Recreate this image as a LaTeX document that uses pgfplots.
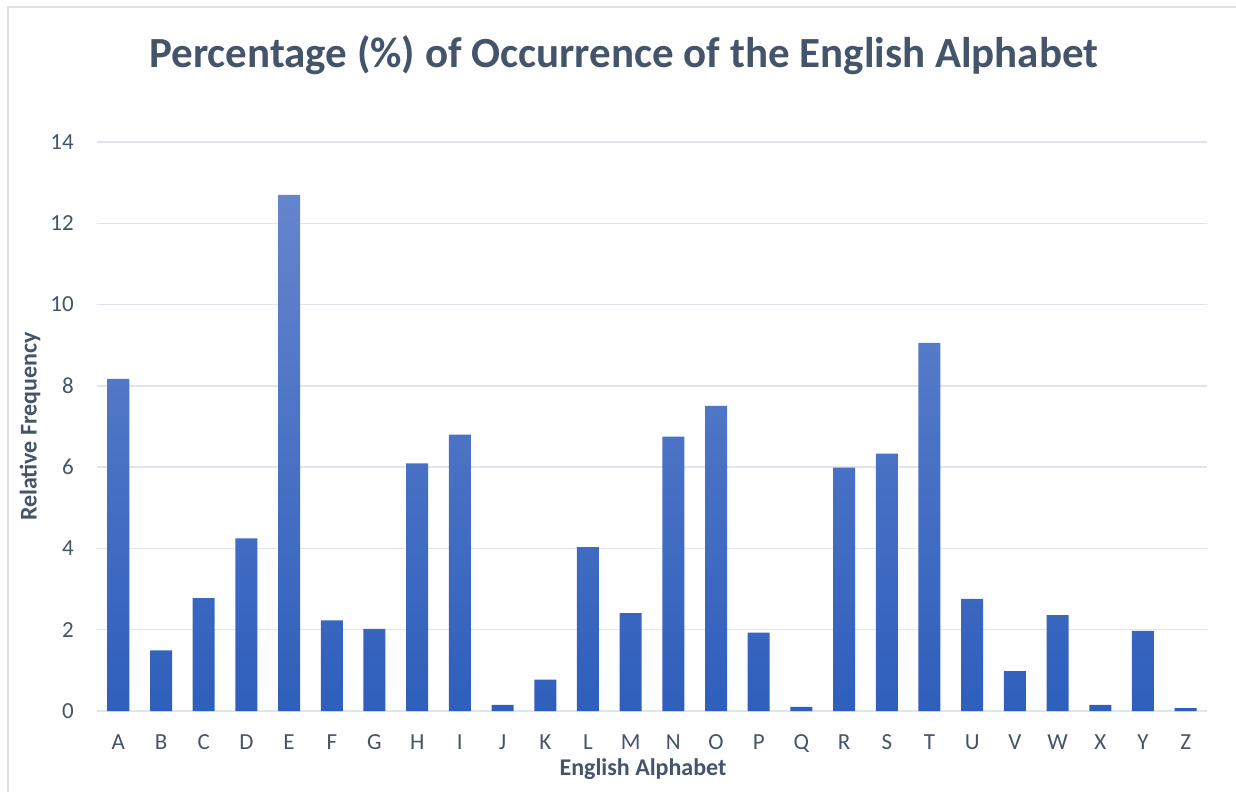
\documentclass[border=0pt]{standalone}
\usepackage{pgfplots}
\pgfplotsset{compat=1.18}
\usepackage{fontspec}
\setmainfont{Carlito}
\definecolor{titlec}{HTML}{44546A}
\definecolor{gridc}{HTML}{E1E4EA}
\definecolor{framec}{HTML}{DDE0E5}
\definecolor{barTop}{HTML}{6585CD}
\definecolor{barMid}{HTML}{3D6DCA}
\definecolor{barBot}{HTML}{2E5FBC}
\begin{document}
\begin{tikzpicture}[x=1pt,y=1pt]
\useasboundingbox (0,0) rectangle (1236,792);
\draw[framec, line width=1.5pt] (8,0) -- (8,785) -- (1236,785);
\node[font=\fontsize{43}{43}\selectfont\bfseries, text=titlec, anchor=center] at (624,737) {Percentage (\%) of Occurrence of the English Alphabet};
\begin{axis}[
  at={(97pt,81pt)}, anchor=south west,
  scale only axis, width=1110pt, height=569pt,
  ymin=0, ymax=14, xmin=-0.5, xmax=25.5,
  ytick={0,2,...,14},
  xtick={0,...,25},
  xticklabels={A,B,C,D,E,F,G,H,I,J,K,L,M,N,O,P,Q,R,S,T,U,V,W,X,Y,Z},
  /pgf/number format/assume math mode=true,
  axis x line*=bottom, axis y line*=left,
  y axis line style={draw=none},
  x axis line style={draw=gridc, line width=1.5pt, -},
  major tick length=0pt,
  ymajorgrids, grid style={draw=gridc, line width=1.5pt},
  yticklabel style={font=\fontsize{23}{23}\selectfont, text=titlec, anchor=east, inner sep=0pt, xshift=-23pt},
  xticklabel style={font=\fontsize{23}{23}\selectfont, text=titlec, anchor=base, inner sep=0pt, yshift=-38pt},
  xlabel={English Alphabet}, ylabel={Relative Frequency},
  xlabel style={font=\fontsize{24}{24}\selectfont\bfseries, text=titlec, at={(rel axis cs:0.5,0)}, anchor=base, inner sep=0pt, yshift=-64pt, xshift=-9pt},
  ylabel style={font=\fontsize{24}{24}\selectfont\bfseries, text=titlec, at={(rel axis cs:0,0.5)}, anchor=center, inner sep=0pt, yshift=67pt},
  ybar, bar width=22pt,
]
\addplot[draw=none, top color=barTop, middle color=barMid, bottom color=barBot] coordinates {
(0,8.17) (1,1.49) (2,2.78) (3,4.25) (4,12.70) (5,2.23) (6,2.02) (7,6.09) (8,6.80) (9,0.15)
(10,0.77) (11,4.03) (12,2.41) (13,6.75) (14,7.51) (15,1.93) (16,0.10) (17,5.99) (18,6.33) (19,9.06)
(20,2.76) (21,0.98) (22,2.36) (23,0.15) (24,1.97) (25,0.07)};
\end{axis}
\end{tikzpicture}
\end{document}
